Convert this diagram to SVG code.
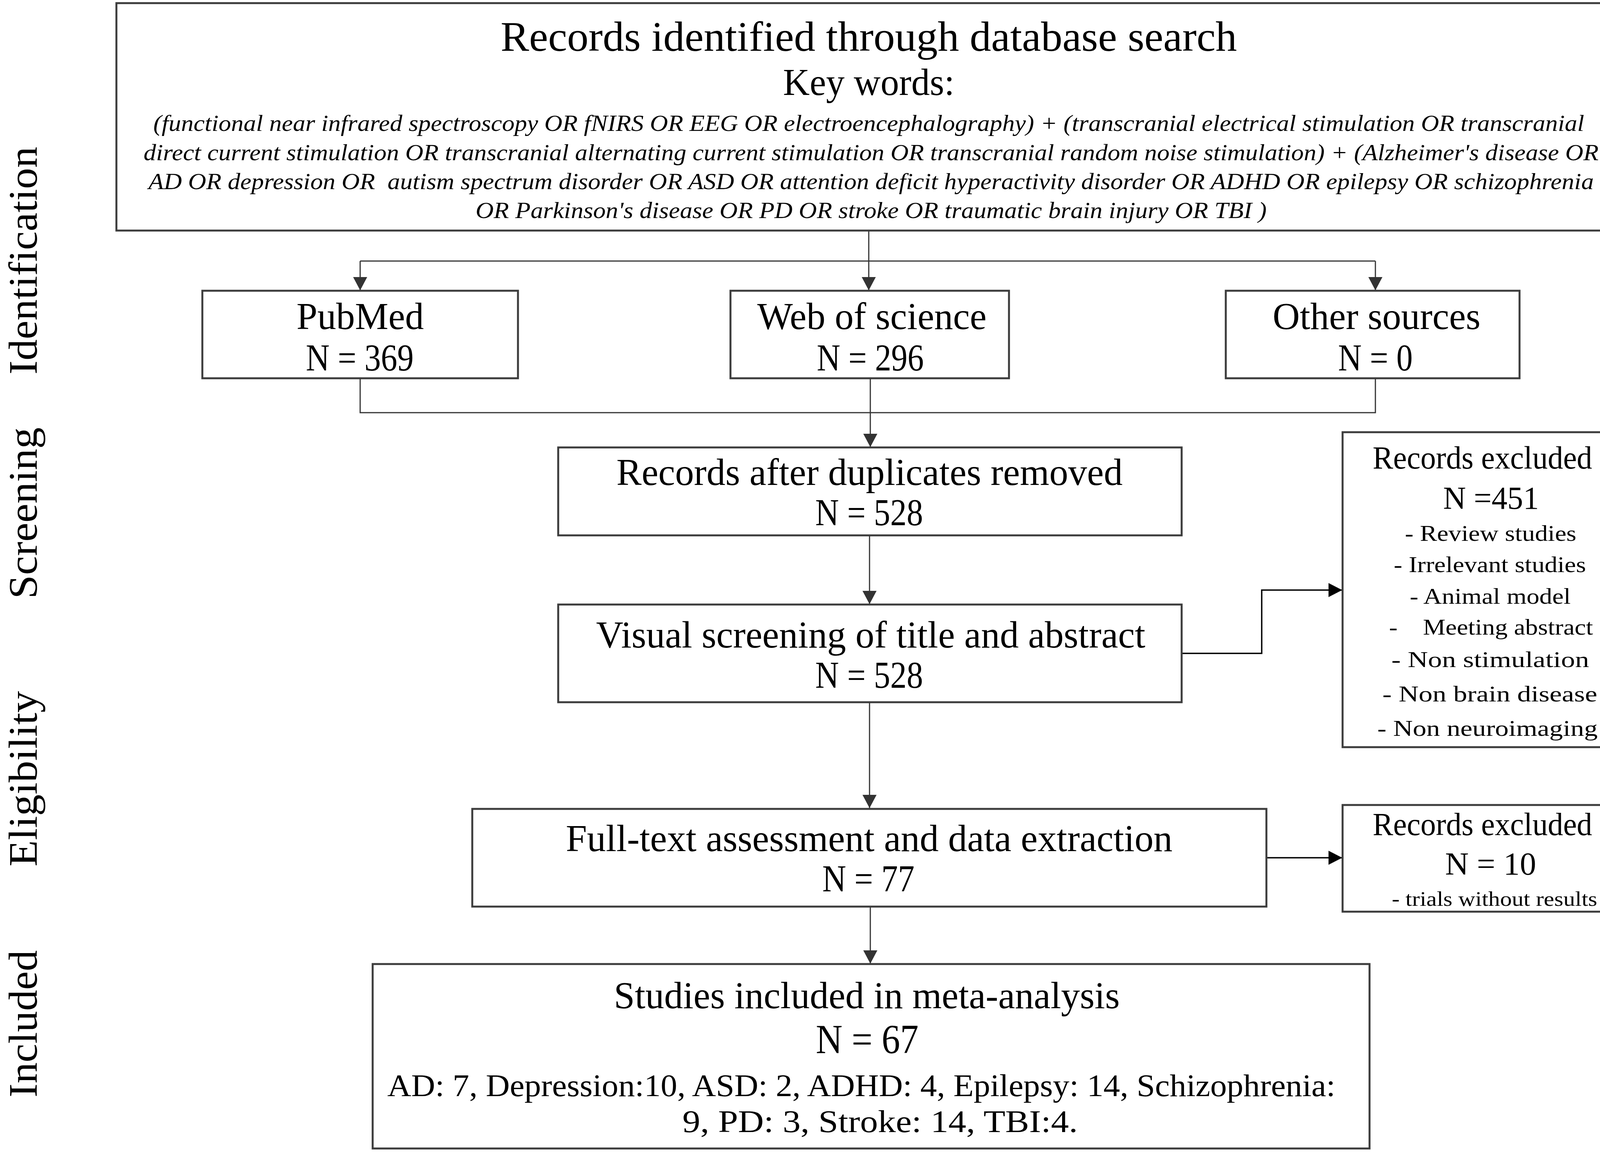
<svg xmlns="http://www.w3.org/2000/svg" width="4200" height="2948" viewBox="0 0 4200 2948">
<style>
text { font-family: "Liberation Serif", "Times New Roman", serif; fill: #000; text-anchor: middle; }
.box { fill: #fff; stroke: #3c3c3c; stroke-width: 5; }
.conn { fill: none; stroke: #333; stroke-width: 3; }
.connb { fill: none; stroke: #000; stroke-width: 3.5; }
.t1 { font-size: 108px; }
.t2 { font-size: 97px; }
.kw { font-size: 60px; font-style: italic; }
.ex { font-size: 82px; }
.exs { font-size: 58px; }
.side { font-size: 104px; }
.inc { font-size: 80px; }
</style>
<defs>
<marker id="ag" markerUnits="userSpaceOnUse" markerWidth="36" markerHeight="36" refX="34" refY="18" orient="auto">
<path d="M0,0 L34,18 L0,36 Z" fill="#333"/>
</marker>
<marker id="ab" markerUnits="userSpaceOnUse" markerWidth="36" markerHeight="36" refX="35" refY="18" orient="auto">
<path d="M0,0 L35,18 L0,36 Z" fill="#000"/>
</marker>
</defs>
<rect width="4200" height="2948" fill="#fff"/>

<g id="side-labels">
<text class="side" transform="translate(94,667) rotate(-90)" textLength="583" lengthAdjust="spacingAndGlyphs">Identification</text>
<text class="side" transform="translate(94,1313) rotate(-90)" textLength="439" lengthAdjust="spacingAndGlyphs">Screening</text>
<text class="side" transform="translate(94,1993) rotate(-90)" textLength="449" lengthAdjust="spacingAndGlyphs">Eligibility</text>
<text class="side" transform="translate(94,2620) rotate(-90)" textLength="377" lengthAdjust="spacingAndGlyphs">Included</text>
</g>

<g id="connectors">
<line class="conn" x1="2224" y1="590" x2="2224" y2="743" marker-end="url(#ag)"/>
<line class="conn" x1="922" y1="668" x2="3521" y2="668"/>
<line class="conn" x1="922" y1="668" x2="922" y2="743" marker-end="url(#ag)"/>
<line class="conn" x1="3521" y1="668" x2="3521" y2="743" marker-end="url(#ag)"/>
<polyline class="conn" points="922,968 922,1056 3521,1056 3521,968"/>
<line class="conn" x1="2228" y1="968" x2="2228" y2="1144" marker-end="url(#ag)"/>
<line class="conn" x1="2226" y1="1370" x2="2226" y2="1546" marker-end="url(#ag)"/>
<line class="conn" x1="2226" y1="1797" x2="2226" y2="2068" marker-end="url(#ag)"/>
<polyline class="connb" points="3025,1672 3230,1672 3230,1510 3436,1510" marker-end="url(#ab)"/>
<line class="connb" x1="3242" y1="2195" x2="3436" y2="2195" marker-end="url(#ab)"/>
<line class="conn" x1="2228" y1="2320" x2="2228" y2="2466" marker-end="url(#ag)"/>
</g>

<g id="records-identified">
<rect class="box" x="298" y="8" width="3848" height="582"/>
<text class="t1" x="2224" y="130" textLength="1885" lengthAdjust="spacingAndGlyphs">Records identified through database search</text>
<text class="t2" x="2224" y="243" textLength="439" lengthAdjust="spacingAndGlyphs">Key words:</text>
<text class="kw" x="2224" y="335" textLength="3663" lengthAdjust="spacingAndGlyphs">(functional near infrared spectroscopy OR fNIRS OR EEG OR electroencephalography) + (transcranial electrical stimulation OR transcranial</text>
<text class="kw" x="2230" y="410" textLength="3725" lengthAdjust="spacingAndGlyphs">direct current stimulation OR transcranial alternating current stimulation OR transcranial random noise stimulation) + (Alzheimer's disease OR</text>
<text class="kw" x="2230" y="484" textLength="3700" lengthAdjust="spacingAndGlyphs" xml:space="preserve">AD OR depression OR  autism spectrum disorder OR ASD OR attention deficit hyperactivity disorder OR ADHD OR epilepsy OR schizophrenia</text>
<text class="kw" x="2230" y="558" textLength="2025" lengthAdjust="spacingAndGlyphs">OR Parkinson's disease OR PD OR stroke OR traumatic brain injury OR TBI )</text>
</g>

<g id="pubmed">
<rect class="box" x="518" y="744" width="808" height="224"/>
<text class="t2" x="922" y="842" textLength="326" lengthAdjust="spacingAndGlyphs">PubMed</text>
<text class="t2" x="921" y="948" textLength="276" lengthAdjust="spacingAndGlyphs">N = 369</text>
</g>

<g id="web-of-science">
<rect class="box" x="1870" y="744" width="713" height="224"/>
<text class="t2" x="2232" y="842" textLength="587" lengthAdjust="spacingAndGlyphs">Web of science</text>
<text class="t2" x="2228" y="948" textLength="274" lengthAdjust="spacingAndGlyphs">N = 296</text>
</g>

<g id="other-sources">
<rect class="box" x="3138" y="744" width="752" height="224"/>
<text class="t2" x="3524" y="842" textLength="532" lengthAdjust="spacingAndGlyphs">Other sources</text>
<text class="t2" x="3521" y="948" textLength="191" lengthAdjust="spacingAndGlyphs">N = 0</text>
</g>

<g id="duplicates-removed">
<rect class="box" x="1429" y="1145" width="1596" height="225"/>
<text class="t2" x="2226" y="1241" textLength="1296" lengthAdjust="spacingAndGlyphs">Records after duplicates removed</text>
<text class="t2" x="2225" y="1344" textLength="276" lengthAdjust="spacingAndGlyphs">N = 528</text>
</g>

<g id="visual-screening">
<rect class="box" x="1429" y="1547" width="1596" height="250"/>
<text class="t2" x="2229" y="1657" textLength="1406" lengthAdjust="spacingAndGlyphs">Visual screening of title and abstract</text>
<text class="t2" x="2225" y="1760" textLength="276" lengthAdjust="spacingAndGlyphs">N = 528</text>
</g>

<g id="records-excluded-1">
<rect class="box" x="3437" y="1106" width="756" height="806"/>
<text class="ex" x="3795" y="1199" textLength="562" lengthAdjust="spacingAndGlyphs">Records excluded</text>
<text class="ex" x="3817" y="1302" textLength="245" lengthAdjust="spacingAndGlyphs">N =451</text>
<text class="exs" x="3816" y="1384" textLength="439" lengthAdjust="spacingAndGlyphs">- Review studies</text>
<text class="exs" x="3814" y="1464" textLength="492" lengthAdjust="spacingAndGlyphs">- Irrelevant studies</text>
<text class="exs" x="3815" y="1545" textLength="412" lengthAdjust="spacingAndGlyphs">- Animal model</text>
<text class="exs" x="3817" y="1624" textLength="522" lengthAdjust="spacingAndGlyphs" xml:space="preserve">-    Meeting abstract</text>
<text class="exs" x="3815" y="1707" textLength="506" lengthAdjust="spacingAndGlyphs">- Non stimulation</text>
<text class="exs" x="3814" y="1795" textLength="550" lengthAdjust="spacingAndGlyphs">- Non brain disease</text>
<text class="exs" x="3808" y="1883" textLength="564" lengthAdjust="spacingAndGlyphs">- Non neuroimaging</text>
</g>

<g id="full-text">
<rect class="box" x="1209" y="2070" width="2033" height="250"/>
<text class="t2" x="2225" y="2178" textLength="1553" lengthAdjust="spacingAndGlyphs">Full-text assessment and data extraction</text>
<text class="t2" x="2223" y="2281" textLength="236" lengthAdjust="spacingAndGlyphs">N = 77</text>
</g>

<g id="records-excluded-2">
<rect class="box" x="3437" y="2060" width="756" height="273"/>
<text class="ex" x="3795" y="2137" textLength="562" lengthAdjust="spacingAndGlyphs">Records excluded</text>
<text class="ex" x="3816" y="2238" textLength="233" lengthAdjust="spacingAndGlyphs">N = 10</text>
<text class="exs" x="3826" y="2318" textLength="526" lengthAdjust="spacingAndGlyphs" style="font-size:52px">- trials without results</text>
</g>

<g id="included">
<rect class="box" x="954" y="2467" width="2552" height="472"/>
<text class="t2" x="2219" y="2580" textLength="1295" lengthAdjust="spacingAndGlyphs">Studies included in meta-analysis</text>
<text class="t2" x="2220" y="2695" textLength="263" lengthAdjust="spacingAndGlyphs" style="font-size:105px">N = 67</text>
<text class="inc" x="2205" y="2805" textLength="2427" lengthAdjust="spacingAndGlyphs">AD: 7, Depression:10, ASD: 2, ADHD: 4, Epilepsy: 14, Schizophrenia:</text>
<text class="inc" x="2253" y="2897" textLength="1012" lengthAdjust="spacingAndGlyphs">9, PD: 3, Stroke: 14, TBI:4.</text>
</g>
</svg>
